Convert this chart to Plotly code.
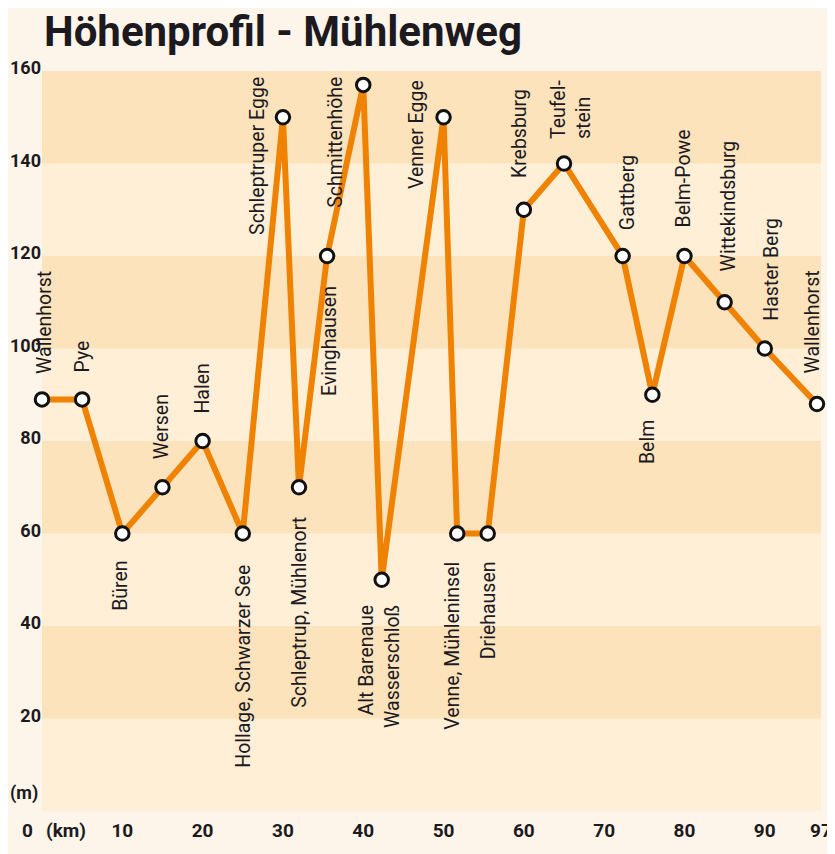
import plotly.graph_objects as go

# ---- data ----
km = [0, 5, 10, 15, 20, 25, 30, 32, 35.5, 40, 42.3, 50, 51.7, 55.5, 60, 65, 72.3, 76, 80, 85, 90, 96.5]
elev = [89, 89, 60, 70, 80, 60, 150, 70, 120, 157, 50, 150, 60, 60, 130, 140, 120, 90, 120, 110, 100, 88]
names = [
    "Wallenhorst", "Pye", "Büren", "Wersen", "Halen", "Hollage, Schwarzer See",
    "Schleptruper Egge", "Schleptrup, Mühlenort", "Evinghausen", "Schmittenhöhe",
    "Alt Barenaue<br>Wasserschloß", "Venner Egge", "Venne, Mühleninsel", "Driehausen",
    "Krebsburg", "Teufel-<br>stein", "Gattberg", "Belm", "Belm-Powe",
    "Wittekindsburg", "Haster Berg", "Wallenhorst",
]
y_ticks = [20, 40, 60, 80, 100, 120, 140, 160]
x_ticks = [10, 20, 30, 40, 50, 60, 70, 80, 90, 97]
band_edges = [0, 20, 40, 60, 80, 100, 120, 140, 160]

# ---- label placement (style): mode, x offset px, gap px, align ----
label_style = [
    ("a", 3, 23, "center"), ("a", 0, 25, "center"), ("b", -2, 25, "center"),
    ("a", -1, 26, "center"), ("a", -1, 25, "center"), ("b", 0, 29, "center"),
    ("l", -26, 4, "center"), ("b", 1, 27, "center"), ("b", 2, 28, "center"),
    ("l", -28, 4, "center"), ("b", -2, 23, "right"), ("l", -27, 7, "center"),
    ("b", -5, 26, "center"), ("b", 1, 26, "center"), ("a", -5, 30, "center"),
    ("a", 7, 22, "left"), ("a", 5, 24, "center"), ("b", -5, 23, "center"),
    ("a", -1, 27, "center"), ("a", 4, 29, "center"), ("a", 6, 26, "center"),
    ("a", -4, 29, "center"),
]

BG = "#fdf5e9"
LIGHT = "#feefd6"
DARK = "#fde3bc"
ORANGE = "#ef8200"
INK = "#1c1a1f"
FONT = "Roboto"

fig = go.Figure()
fig.add_trace(go.Scatter(
    x=km, y=elev, mode="lines+markers",
    line=dict(color=ORANGE, width=6),
    marker=dict(size=13.5, color="white", line=dict(color="#111111", width=3)),
    hoverinfo="skip", showlegend=False, cliponaxis=False,
))

shapes = []
for i in range(len(band_edges) - 1):
    if i % 2 == 1:
        shapes.append(dict(type="rect", xref="paper", yref="y", x0=0, x1=1,
                           y0=band_edges[i], y1=band_edges[i + 1],
                           fillcolor=DARK, line=dict(width=0), layer="below"))

ann = []
for n, x, y, (mode, dx, gap, al) in zip(names, km, elev, label_style):
    base = dict(text=n, textangle=-90, showarrow=False, align=al,
                font=dict(family=FONT, size=19.5, color=INK), xref="x", x=x, xshift=dx)
    if mode == "a":
        base.update(yref="y", y=y, yanchor="bottom", yshift=gap)
    elif mode == "b":
        base.update(yref="y", y=y, yanchor="top", yshift=-gap)
    else:
        base.update(yref="paper", y=1, yanchor="top", yshift=-gap)
    ann.append(base)

bold = dict(family=FONT, size=19, color=INK, weight="bold")
ann.append(dict(text="(m)", xref="paper", x=0, xanchor="right", xshift=-2,
                yref="paper", y=0, yanchor="middle", yshift=18, showarrow=False,
                font=dict(family=FONT, size=18, color=INK, weight="bold")))
ann.append(dict(text="0", xref="x", x=0, xanchor="right", xshift=-7,
                yref="paper", y=0, yanchor="middle", yshift=-19, showarrow=False, font=bold))
ann.append(dict(text="(km)", xref="x", x=0, xanchor="left", xshift=2,
                yref="paper", y=0, yanchor="middle", yshift=-19, showarrow=False, font=bold))

fig.update_layout(
    width=827, height=846,
    margin=dict(l=34, r=14, t=63, b=43),
    paper_bgcolor=BG, plot_bgcolor=LIGHT,
    title=dict(text="Höhenprofil - Mühlenweg", x=36 / 827, xref="container", xanchor="left",
               y=0.990, yref="container", yanchor="top",
               font=dict(family=FONT, size=42, color=INK, weight="bold")),
    shapes=shapes, annotations=ann,
    xaxis=dict(range=[0, 97], tickvals=x_ticks, showgrid=False, zeroline=False,
               showline=False, ticks="", tickfont=bold, ticklabelstandoff=6,
               automargin=False, fixedrange=True),
    yaxis=dict(range=[0, 160], tickvals=y_ticks, showgrid=False, zeroline=False,
               showline=False, ticks="", tickfont=dict(family=FONT, size=18, color=INK, weight="bold"),
               ticklabelstandoff=0, ticklabelshift=-3, automargin=False, fixedrange=True),
)

fig.write_html("out.html")
